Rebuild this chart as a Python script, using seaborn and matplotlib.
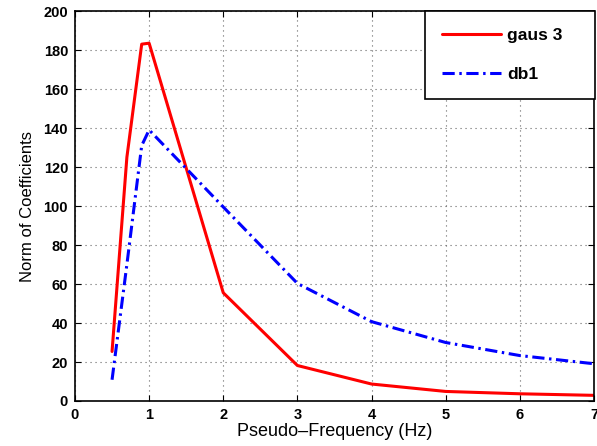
import numpy as np
import seaborn as sns
import pandas as pd
from matplotlib import pyplot as plt

# pseudo-frequencies (Hz) and coefficient norms
freq = [0.5, 0.7, 0.9, 1.0, 2.0, 3.0, 4.0, 5.0, 6.0, 7.0]
gaus3 = [25.4, 125.0, 183.0, 183.5, 55.5, 18.2, 8.7, 4.9, 3.7, 2.9]
db1 = [10.9, 70.0, 131.0, 139.0, 99.5, 60.3, 40.7, 30.0, 23.3, 19.1]
series_names = ["gaus 3", "db1"]

df = pd.DataFrame({
    "freq": freq * 2,
    "norm": gaus3 + db1,
    "wavelet": [series_names[0]] * len(freq) + [series_names[1]] * len(freq),
})

sns.set_style("ticks")
plt.rcParams["font.family"] = ["Liberation Sans", "DejaVu Sans"]
plt.rcParams.update({"text.color": "black", "axes.labelcolor": "black",
                     "xtick.color": "black", "ytick.color": "black"})

fig = plt.figure(figsize=(5.97, 4.46), dpi=100)
ax = fig.add_axes([0.1256, 0.1009, 0.8693, 0.8744])

sns.lineplot(data=df, x="freq", y="norm", hue="wavelet", style="wavelet",
             palette={"gaus 3": "#ff0000", "db1": "#0000ff"},
             dashes={"gaus 3": "", "db1": (4, 1.5, 0.8, 1.5)},
             linewidth=2.2, sort=False, ax=ax)

ax.set_xlim(0, 7)
ax.set_ylim(0, 200)
ax.set_xticks(range(0, 8))
ax.set_yticks(range(0, 201, 20))
ax.grid(True, linestyle=(0, (1, 3.5)), color="#666666", linewidth=0.8)
ax.tick_params(direction="in", length=4, width=0.8, labelsize=10.5, pad=5,
               top=True, right=True)
for lab in ax.get_xticklabels() + ax.get_yticklabels():
    lab.set_fontweight("bold")
for sp in ax.spines.values():
    sp.set_linewidth(1.2)
    sp.set_color("black")

ax.set_xlabel("Pseudo\u2013Frequency (Hz)", fontsize=13, labelpad=1)
ax.set_ylabel("Norm of Coefficients", fontsize=12, labelpad=6)

leg = ax.legend(loc="upper right", bbox_to_anchor=(0.6744, 0.75, 0.3276, 0.25),
                mode="expand", borderaxespad=0, fancybox=False,
                edgecolor="black", framealpha=1, handlelength=3.4,
                handletextpad=0.35, labelspacing=1.37, borderpad=0.98,
                prop={"weight": "bold", "size": 12.5})
leg.get_frame().set_linewidth(1.2)
for t in leg.get_texts():
    t.set_color("black")

fig.savefig("out.png", dpi=100)
